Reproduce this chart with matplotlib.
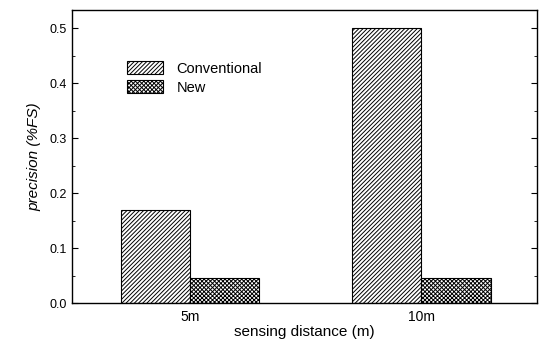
import matplotlib
matplotlib.use('Agg')
import matplotlib.pyplot as plt
import numpy as np

plt.rcParams['font.family'] = ['Liberation Sans', 'DejaVu Sans']
plt.rcParams['hatch.linewidth'] = 0.7

groups = ['5m', '10m']
conventional = [0.17, 0.50]
new = [0.045, 0.046]

x = np.arange(1, len(groups) + 1)
w = 0.30

fig = plt.figure(figsize=(5.45, 3.46), dpi=100)
ax = fig.add_axes([0.132, 0.124, 0.853, 0.847])

ax.bar(x - w / 2, conventional, w, color='white', edgecolor='black',
       hatch='////////', linewidth=0.8, label='Conventional')
ax.bar(x + w / 2, new, w, color='white', edgecolor='black',
       hatch='xxxxxxxx', linewidth=0.8, label='New')

ax.set_xlim(0.49, 2.5)
ax.set_ylim(0, 0.533)
ax.set_xticks(x)
ax.set_xticklabels(groups)
ax.set_yticks(np.arange(0, 0.51, 0.1))
ax.set_yticklabels(['0.0', '0.1', '0.2', '0.3', '0.4', '0.5'])
ax.set_yticks(np.arange(0.05, 0.53, 0.1), minor=True)
ax.tick_params(axis='y', which='both', direction='in', right=True, labelsize=9, length=4)
ax.tick_params(axis='y', which='minor', length=2)
ax.tick_params(axis='x', direction='in', length=0, labelsize=10, pad=5)
for s in ax.spines.values():
    s.set_linewidth(1.0)

ax.set_xlabel('sensing distance (m)', fontsize=11, labelpad=1)
ax.set_ylabel('precision (%FS)', fontsize=11, style='italic', labelpad=6)

ax.legend(loc='upper left', bbox_to_anchor=(0.09, 0.87), frameon=False,
          fontsize=10.5, handlelength=2.5, handleheight=1.0, labelspacing=0.3,
          handletextpad=0.9)

fig.savefig('out.png', dpi=100)
